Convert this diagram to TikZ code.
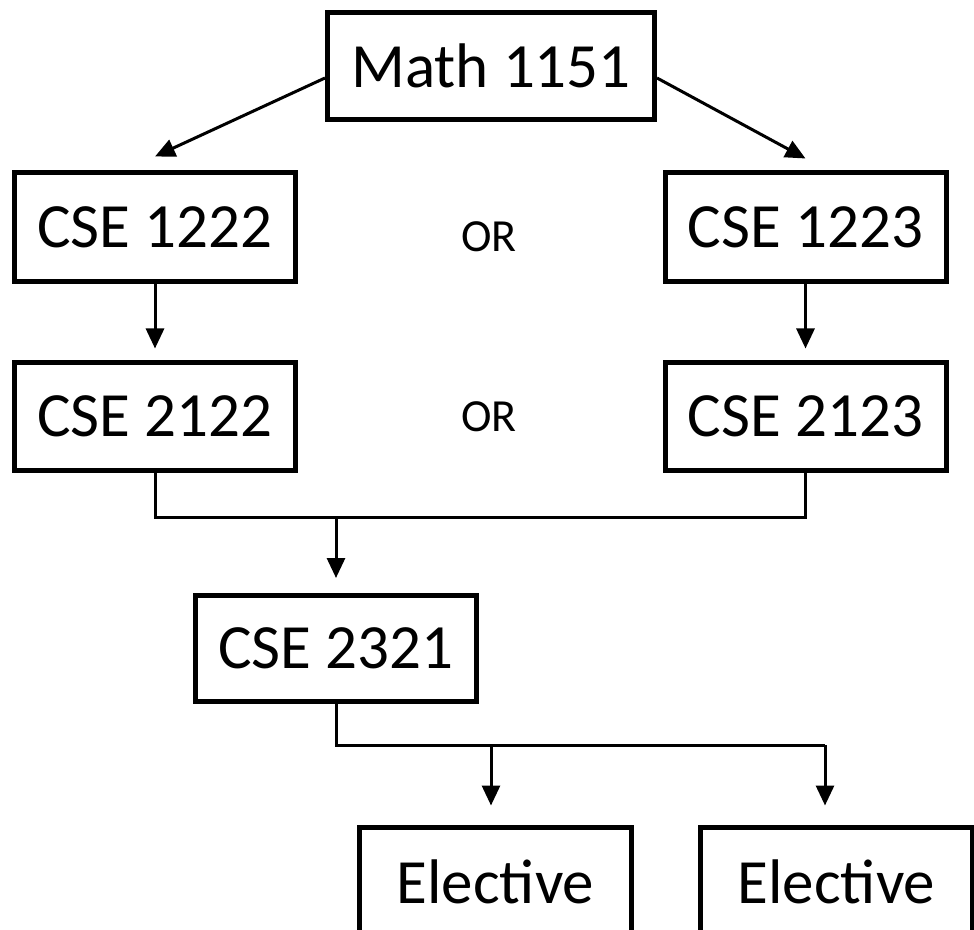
\documentclass[tikz,border=0pt]{standalone}
\usepackage{fontspec}
\setmainfont{Carlito}
\usetikzlibrary{arrows.meta}

\begin{document}
\begin{tikzpicture}[x=0.5pt,y=-0.5pt,
  course/.style={draw,line width=2.5pt,inner sep=0pt,minimum width=140.5pt,minimum height=54.5pt,font=\fontsize{31.5}{36}\selectfont},
  link/.style={line width=1.5pt},
  arr/.style={link,-{Triangle[length=10pt,width=9pt]}},
  choice/.style={font=\fontsize{23}{28}\selectfont}]
\useasboundingbox (0,0) rectangle (974,930);
\clip (0,0) rectangle (974,930);

\node[course,minimum width=163.5pt,minimum height=53.5pt] (math) at (491,66) {Math 1151};
\node[course] (c1222) at (155,227.5) {CSE 1222};
\node[course] (c1223) at (805.5,227.5) {CSE 1223};
\node[course,minimum height=53.5pt] (c2122) at (155,416.5) {CSE 2122};
\node[course,minimum height=53.5pt] (c2123) at (805.5,416.5) {CSE 2123};
\node[course,minimum height=53pt] (c2321) at (336,648.5) {CSE 2321};
\node[course,minimum width=136pt] (el1) at (495.5,882) {Elective};
\node[course,minimum width=136pt] (el2) at (836.5,882) {Elective};
\node[choice] (or1) at (489,237) {OR};
\node[choice] (or2) at (489,417) {OR};

\coordinate (join) at (336,517);
\coordinate (fork1) at (491,745);
\coordinate (fork2) at (825,745);

\draw[arr] ([yshift=-6pt]math.west) -- ([yshift=7pt]c1222.north);
\draw[arr] ([yshift=-6pt]math.east) -- ([yshift=6pt]c1223.north);
\draw[arr] (c1222.south) -- ([yshift=6pt]c2122.north);
\draw[arr] (c1223.south) -- ([yshift=6pt]c2123.north);
\draw[link] (c2122.south) |- (join) -| (c2123.south);
\draw[arr] (join) -- ([yshift=7.5pt]c2321.north);
\draw[link] (c2321.south) |- (fork2);
\draw[arr,shorten >=9.75pt] (fork1) -- (fork1 |- el1.north);
\draw[arr,shorten >=9.75pt] (fork2) -- (fork2 |- el2.north);
\end{tikzpicture}
\end{document}
